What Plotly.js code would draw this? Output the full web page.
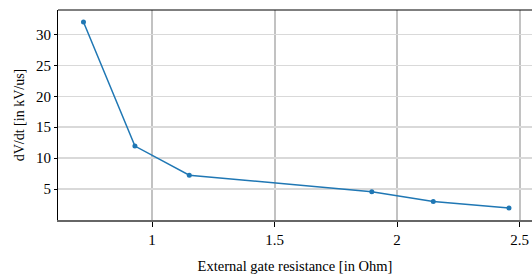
<!DOCTYPE html>
<html><head><meta charset="utf-8">
<script src="https://cdn.plot.ly/plotly-3.0.1.min.js"></script>
<style>html,body{margin:0;padding:0;background:#fff}</style>
</head><body><div id="chart" style="width:532px;height:274px"></div>
<script>
const resistance = [0.72, 0.93, 1.152, 1.897, 2.148, 2.457];
const dvdt = [32.0, 11.95, 7.25, 4.55, 2.98, 1.95];
const xTicks = [1, 1.5, 2, 2.5];
const xTickLabels = ['1', '1.5', '2', '2.5'];
const yTicks = [5, 10, 15, 20, 25, 30];
const yTickLabels = ['5', '10', '15', '20', '25', '30'];

const SERIF = 'Liberation Serif';
Plotly.newPlot('chart', [{
  x: resistance, y: dvdt, type: 'scatter', mode: 'lines+markers',
  line: {color: '#1f77b4', width: 1.5},
  marker: {color: '#1f77b4', size: 5}
}], {
  width: 532, height: 274,
  margin: {l: 58, r: 0, t: 10, b: 54},
  paper_bgcolor: '#fff', plot_bgcolor: '#fff',
  font: {family: SERIF, size: 14, color: '#000'},
  showlegend: false,
  xaxis: {
    range: [0.616, 2.551],
    tickvals: xTicks, ticktext: xTickLabels,
    showgrid: true, gridcolor: '#c2c2c2', gridwidth: 2,
    zeroline: false,
    showline: true, linecolor: '#666', linewidth: 2,
    ticks: 'outside', ticklen: 5, tickcolor: '#000', tickwidth: 1,
    tickfont: {family: SERIF, size: 15, color: '#000'},
    title: {text: 'External gate resistance [in Ohm]', font: {family: SERIF, size: 14.5, color: '#000'}, standoff: 18}
  },
  yaxis: {
    range: [0, 33.95],
    tickvals: yTicks, ticktext: yTickLabels,
    showgrid: true, gridcolor: '#d9d9d9', gridwidth: 1.5,
    zeroline: false,
    showline: true, linecolor: '#000', linewidth: 1,
    ticks: 'outside', ticklen: 3, tickcolor: '#000', tickwidth: 1,
    tickfont: {family: SERIF, size: 15, color: '#000'},
    title: {text: 'dV/dt [in kV/us]', font: {family: SERIF, size: 14, color: '#000'}, standoff: 8}
  },
  shapes: [{type: 'line', xref: 'paper', yref: 'paper', x0: 0, x1: 1, y0: 1, y1: 1,
    line: {color: '#000', width: 1}}]
}, {displayModeBar: false, staticPlot: true});
</script></body></html>
